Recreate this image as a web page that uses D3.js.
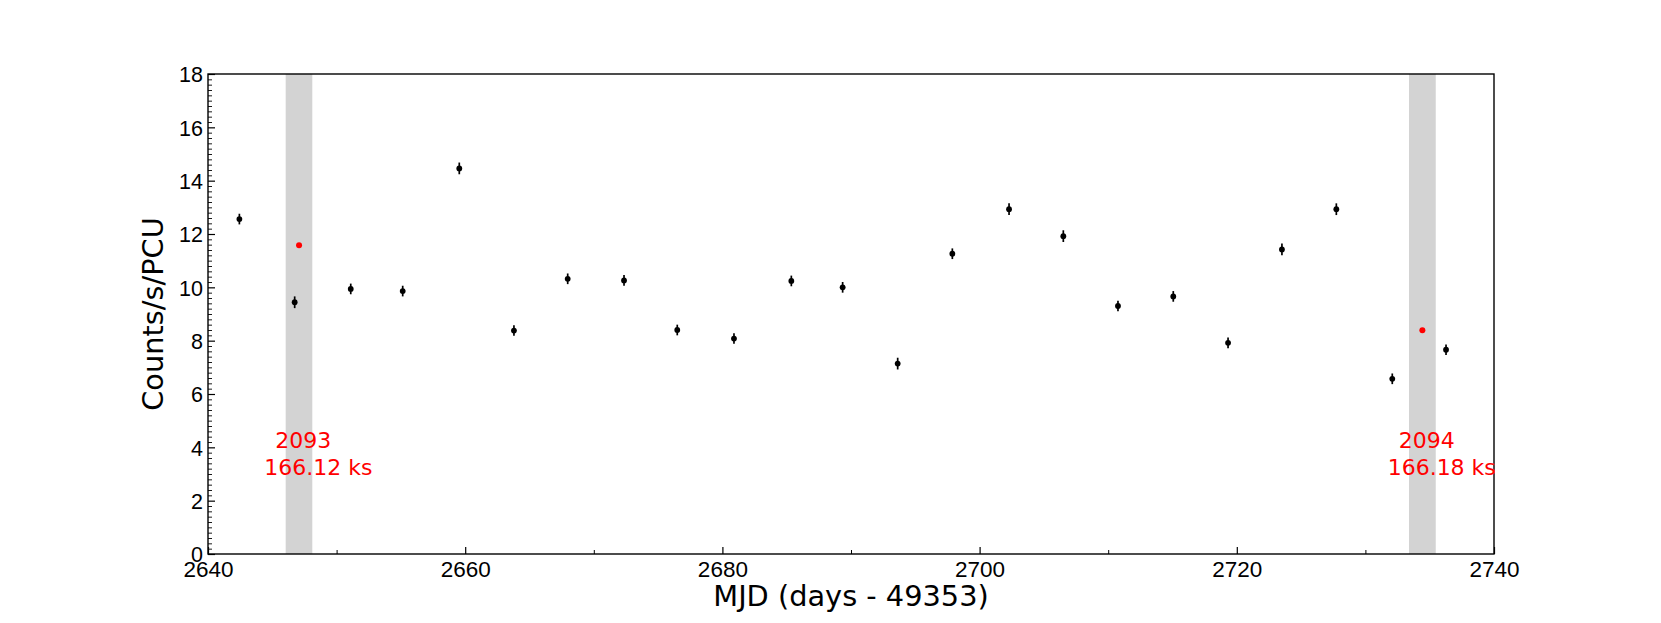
<!DOCTYPE html>
<html>
<head>
<meta charset="utf-8">
<script src="https://cdn.jsdelivr.net/npm/d3@7"></script>
<style>
  html, body { margin: 0; padding: 0; background: #fff; }
  svg { display: block; font-family: "DejaVu Sans", sans-serif; }
</style>
</head>
<body>
<svg id="chart" width="1661" height="623"></svg>
<script>
// ---- data ----
const mjd = [2642.44, 2646.74, 2651.10, 2655.14, 2659.54, 2663.79, 2667.97, 2672.35,
             2676.49, 2680.90, 2685.36, 2689.35, 2693.63, 2697.88, 2702.29, 2706.51,
             2710.76, 2715.06, 2719.32, 2723.51, 2727.74, 2732.09, 2736.27];
const rate = [12.56, 9.44, 9.94, 9.86, 14.46, 8.38, 10.32, 10.26,
              8.40, 8.08, 10.24, 10.00, 7.14, 11.26, 12.93, 11.92,
              9.30, 9.66, 7.92, 11.42, 12.93, 6.57, 7.66];
const rateErr = [0.20, 0.22, 0.20, 0.20, 0.22, 0.20, 0.20, 0.20,
                 0.20, 0.20, 0.20, 0.20, 0.22, 0.20, 0.22, 0.22,
                 0.20, 0.20, 0.20, 0.22, 0.22, 0.20, 0.20];
const obsMjd = [2647.08, 2734.43];
const obsRate = [11.58, 8.39];
const bandStart = [2646.04, 2733.39];
const bandEnd = [2648.11, 2735.47];
const obsLabelX = [2644.38, 2731.73];
const obsLabelLines = [["2093", "166.12 ks"], ["2094", "166.18 ks"]];
const xTicks = [2640, 2660, 2680, 2700, 2720, 2740];
const xMinorTicks = [2650, 2670, 2690, 2710, 2730];
const yTicks = [0, 2, 4, 6, 8, 10, 12, 14, 16, 18];
const xTitle = "MJD (days - 49353)";
const yTitle = "Counts/s/PCU";

// ---- layout ----
const svg = d3.select("#chart");
const L = 208, R = 1494, T = 74, B = 554;
const x = d3.scaleLinear().domain([2640, 2740]).range([L, R]);
const y = d3.scaleLinear().domain([0, 18]).range([B, T]);

// shaded bands
svg.append("g").selectAll("rect").data(bandStart).join("rect")
  .attr("x", (d, i) => x(d))
  .attr("width", (d, i) => x(bandEnd[i]) - x(d))
  .attr("y", T).attr("height", B - T)
  .attr("fill", "#d3d3d3");

// x axis (ticks inward)
const xAxis = svg.append("g").attr("transform", `translate(0,${B})`)
  .call(d3.axisBottom(x).tickValues(xTicks).tickSize(-7).tickSizeOuter(0)
        .tickFormat(d3.format("d")));
xAxis.select(".domain").remove();
xAxis.selectAll(".tick line").attr("stroke", "#000").attr("stroke-width", 1.2);
xAxis.selectAll(".tick text").attr("font-size", "22.5px").attr("fill", "#000")
  .attr("y", 22.5).attr("dy", 0);
svg.append("g").attr("transform", `translate(0,${B})`)
  .call(d3.axisBottom(x).tickValues(xMinorTicks).tickSize(-4).tickFormat(""))
  .call(g => g.select(".domain").remove())
  .selectAll(".tick line").attr("stroke", "#000").attr("stroke-width", 1.0);

// y axis (ticks inward)
const yAxis = svg.append("g").attr("transform", `translate(${L},0)`)
  .call(d3.axisLeft(y).tickValues(yTicks).tickSize(-7).tickSizeOuter(0)
        .tickFormat(d3.format("d")));
yAxis.select(".domain").remove();
yAxis.selectAll(".tick line").attr("stroke", "#000").attr("stroke-width", 1.2);
yAxis.selectAll(".tick text").attr("font-size", "21.5px").attr("fill", "#000")
  .attr("x", -5).attr("dy", "0.36em");
const yMinor = d3.range(0, 18.001, 0.2).filter(v => Math.abs(v / 2 - Math.round(v / 2)) > 1e-6);
svg.append("g").attr("transform", `translate(${L},0)`)
  .call(d3.axisLeft(y).tickValues(yMinor).tickSize(-4).tickFormat(""))
  .call(g => g.select(".domain").remove())
  .selectAll(".tick line").attr("stroke", "#000").attr("stroke-width", 0.9);

// frame
svg.append("rect").attr("x", L).attr("y", T).attr("width", R - L).attr("height", B - T)
  .attr("fill", "none").attr("stroke", "#000").attr("stroke-width", 1.4);

// error bars + points
const pts = svg.append("g");
pts.selectAll("line").data(mjd).join("line")
  .attr("x1", d => x(d)).attr("x2", d => x(d))
  .attr("y1", (d, i) => y(rate[i] - rateErr[i]))
  .attr("y2", (d, i) => y(rate[i] + rateErr[i]))
  .attr("stroke", "#000").attr("stroke-width", 1.7);
pts.selectAll("circle").data(mjd).join("circle")
  .attr("cx", d => x(d)).attr("cy", (d, i) => y(rate[i]))
  .attr("r", 2.9).attr("fill", "#000");

// red observation points
svg.append("g").selectAll("circle").data(obsMjd).join("circle")
  .attr("cx", d => x(d)).attr("cy", (d, i) => y(obsRate[i]))
  .attr("r", 3).attr("fill", "#ff0000");

// red labels
const lab = svg.append("g").attr("fill", "#ff0000").attr("font-size", "22px");
obsLabelX.forEach((lx, i) => {
  lab.append("text").attr("x", x(lx) + 11).attr("y", y(3.97)).text(obsLabelLines[i][0]);
  lab.append("text").attr("x", x(lx)).attr("y", y(2.96)).text(obsLabelLines[i][1]);
});

// axis titles
svg.append("text").attr("x", (L + R) / 2).attr("y", 606)
  .attr("text-anchor", "middle").attr("font-size", "28.8px").attr("fill", "#000")
  .text(xTitle);
svg.append("text")
  .attr("transform", `translate(163,${(T + B) / 2}) rotate(-90)`)
  .attr("text-anchor", "middle").attr("font-size", "28.8px").attr("fill", "#000")
  .text(yTitle);
</script>
</body>
</html>
